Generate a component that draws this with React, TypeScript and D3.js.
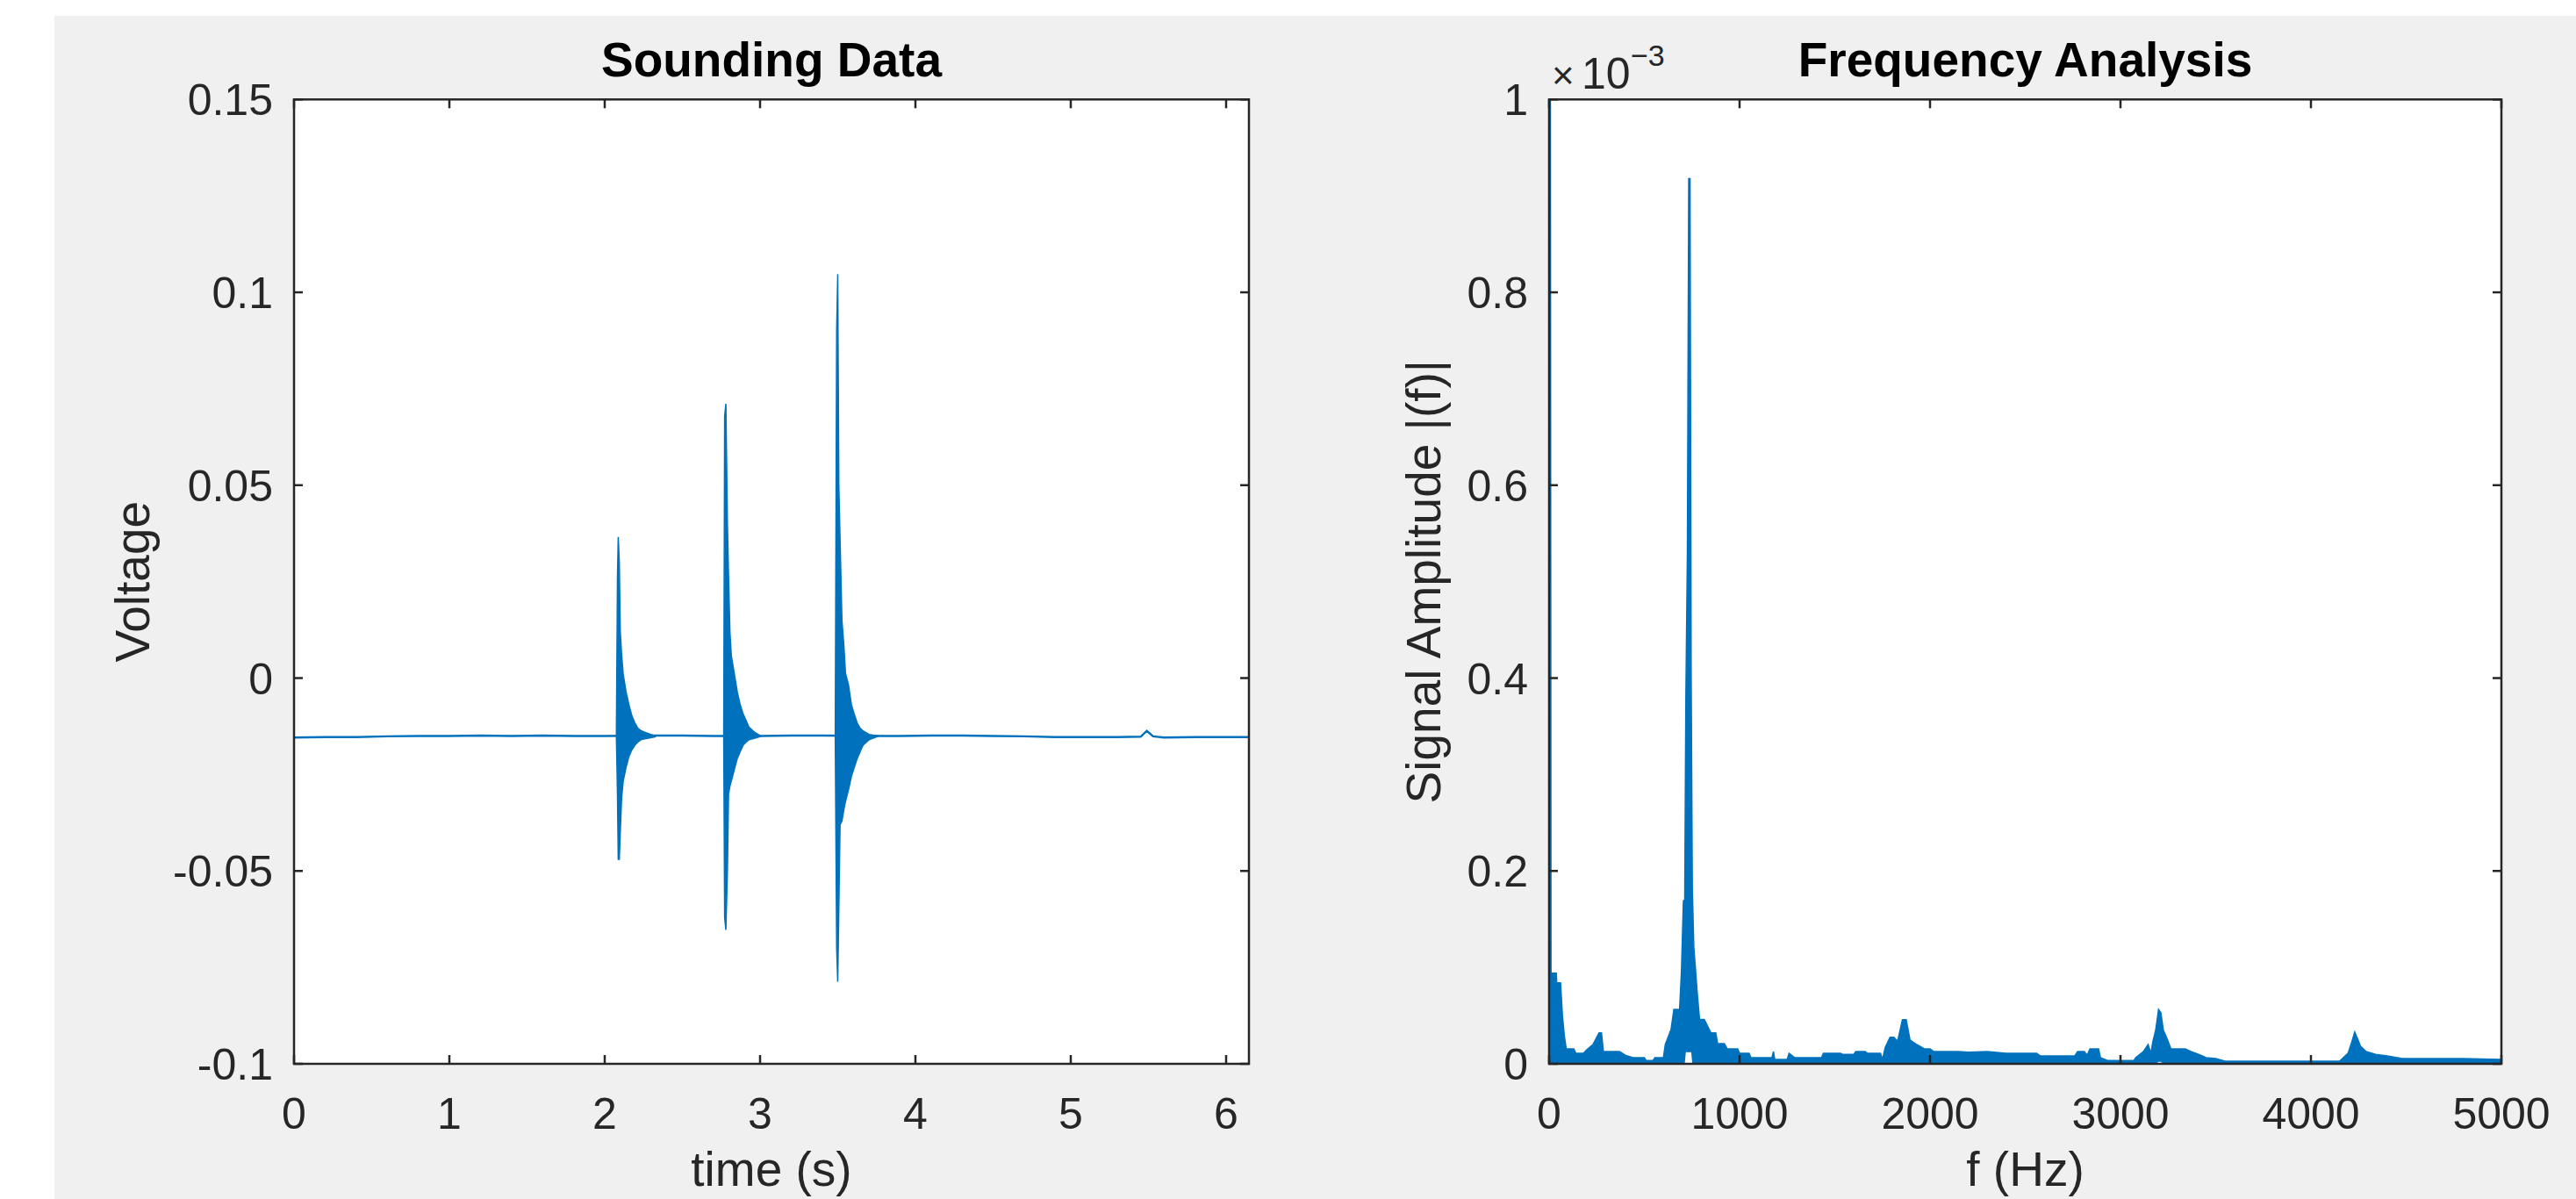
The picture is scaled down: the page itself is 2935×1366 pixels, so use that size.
import React from 'react';
import * as d3 from 'd3';

// ---------- tick definitions ----------
const timeTicks = [0, 1, 2, 3, 4, 5, 6];
const voltTicks = [-0.1, -0.05, 0, 0.05, 0.1, 0.15];
const voltTickLabels = ['-0.1', '-0.05', '0', '0.05', '0.1', '0.15'];
const freqTicks = [0, 1000, 2000, 3000, 4000, 5000];
const ampTicks = [0, 0.2, 0.4, 0.6, 0.8, 1];
const ampTickLabels = ['0', '0.2', '0.4', '0.6', '0.8', '1'];

// ---------- time-domain data ----------
const baseT = [0, 0.2, 0.4, 0.6, 0.8, 1.0, 1.2, 1.4, 1.6, 1.8, 2.0, 2.3, 2.5, 2.7, 3.0, 3.2, 3.4, 3.8, 3.9, 4.1, 4.3, 4.5, 4.7, 4.9, 5.1, 5.3, 5.45, 5.49, 5.53, 5.6, 5.8, 6.0, 6.147];
const baseV = [-0.0154, -0.0153, -0.0153, -0.0151, -0.0150, -0.0150, -0.0149, -0.0150, -0.0149, -0.0150, -0.0150, -0.0149, -0.0149, -0.0150, -0.0150, -0.0149, -0.0149, -0.0150, -0.0150, -0.0149, -0.0149, -0.0150, -0.0151, -0.0153, -0.0153, -0.0153, -0.0152, -0.0137, -0.0151, -0.0154, -0.0153, -0.0153, -0.0153];

const burst1T = [2.075, 2.082, 2.087, 2.094, 2.100, 2.109, 2.119, 2.137, 2.156, 2.175, 2.194, 2.213, 2.232, 2.250, 2.288, 2.326];
const burst1Hi = [-0.015, 0.026, 0.0366, 0.030, 0.0122, 0.006, 0.001, -0.0035, -0.0069, -0.0098, -0.0116, -0.013, -0.0136, -0.0139, -0.0145, -0.0150];
const burst1Lo = [-0.015, -0.030, -0.047, -0.047, -0.040, -0.031, -0.0267, -0.0232, -0.0203, -0.0186, -0.0174, -0.0166, -0.016, -0.0158, -0.0155, -0.0152];

const burst2T = [2.766, 2.772, 2.780, 2.790, 2.797, 2.806, 2.815, 2.834, 2.853, 2.872, 2.891, 2.910, 2.928, 2.966, 3.004];
const burst2Hi = [-0.015, 0.068, 0.0711, 0.040, 0.0267, 0.012, 0.0058, 0.0012, -0.0035, -0.0069, -0.0093, -0.011, -0.0127, -0.0141, -0.0150];
const burst2Lo = [-0.015, -0.062, -0.0653, -0.050, -0.0301, -0.028, -0.0267, -0.0238, -0.0209, -0.0191, -0.0174, -0.0166, -0.016, -0.0156, -0.0151];

const burst3T = [3.484, 3.493, 3.500, 3.507, 3.515, 3.527, 3.540, 3.550, 3.569, 3.588, 3.606, 3.625, 3.644, 3.663, 3.701, 3.757];
const burst3Hi = [-0.015, 0.090, 0.1047, 0.050, 0.036, 0.015, 0.0081, 0.0012, -0.0017, -0.0069, -0.0093, -0.0116, -0.013, -0.0137, -0.0146, -0.0150];
const burst3Lo = [-0.015, -0.070, -0.0787, -0.060, -0.038, -0.0371, -0.034, -0.032, -0.029, -0.0255, -0.0232, -0.0209, -0.0191, -0.0174, -0.016, -0.0151];

// ---------- frequency-domain data (amplitude in units of 1e-3) ----------
const fftFreq = [0, 5, 10, 25, 38, 40, 60, 70, 80, 90, 130, 140, 180, 200, 230, 262, 275, 285, 370, 400, 440, 500, 510, 545, 555, 600, 610, 640, 655, 685, 695, 705, 712, 718, 726, 733, 740, 746, 752, 760, 768, 776, 790, 815, 830, 850, 875, 885, 920, 935, 990, 1000, 1050, 1060, 1170, 1178, 1185, 1250, 1260, 1290, 1430, 1440, 1530, 1540, 1600, 1610, 1660, 1670, 1740, 1750, 1765, 1790, 1810, 1830, 1855, 1875, 1895, 1930, 1970, 2000, 2020, 2150, 2200, 2300, 2400, 2560, 2580, 2760, 2775, 2810, 2825, 2840, 2885, 2895, 2935, 3070, 3080, 3120, 3145, 3160, 3170, 3185, 3200, 3212, 3225, 3245, 3265, 3340, 3370, 3410, 3450, 3500, 3550, 4150, 4170, 4195, 4215, 4230, 4245, 4260, 4290, 4340, 4400, 4480, 4800, 5000];
const fftAmp = [1.5, 1.5, 0.094, 0.094, 0.094, 0.084, 0.084, 0.05, 0.029, 0.0155, 0.0155, 0.011, 0.011, 0.015, 0.02, 0.032, 0.032, 0.0127, 0.0127, 0.009, 0.0064, 0.0064, 0.0033, 0.0033, 0.0064, 0.0064, 0.02, 0.0355, 0.0564, 0.0564, 0.097, 0.169, 0.17, 0.38, 0.53, 0.918, 0.918, 0.40, 0.181, 0.12, 0.10, 0.078, 0.046, 0.046, 0.04, 0.032, 0.032, 0.021, 0.021, 0.0155, 0.0155, 0.011, 0.011, 0.0064, 0.0064, 0.0127, 0.0045, 0.0045, 0.011, 0.0064, 0.0064, 0.011, 0.011, 0.0098, 0.0098, 0.0127, 0.0127, 0.011, 0.011, 0.0045, 0.017, 0.0276, 0.0276, 0.0235, 0.0458, 0.0458, 0.0246, 0.02, 0.0155, 0.0155, 0.0127, 0.0127, 0.012, 0.0127, 0.011, 0.011, 0.0082, 0.0082, 0.0127, 0.0127, 0.009, 0.0155, 0.0155, 0.0064, 0.0033, 0.0033, 0.0064, 0.0127, 0.02, 0.011, 0.023, 0.035, 0.0564, 0.053, 0.035, 0.026, 0.0155, 0.0155, 0.0127, 0.0098, 0.0064, 0.0055, 0.0027, 0.0027, 0.0064, 0.011, 0.023, 0.033, 0.026, 0.0185, 0.0127, 0.0098, 0.0082, 0.0055, 0.0055, 0.0045];
const fftFloor = [0, 0, 0, 0, 0, 0, 0, 0, 0, 0, 0, 0, 0, 0, 0, 0, 0, 0, 0, 0, 0, 0, 0, 0, 0, 0, 0, 0, 0, 0, 0, 0, 0, 0.012, 0.012, 0.012, 0.012, 0.012, 0, 0, 0, 0, 0, 0, 0, 0, 0, 0, 0, 0, 0, 0, 0, 0, 0, 0, 0, 0, 0, 0, 0, 0, 0, 0, 0, 0, 0, 0, 0, 0, 0, 0, 0, 0, 0, 0, 0, 0, 0, 0, 0, 0, 0, 0, 0, 0, 0, 0, 0, 0, 0, 0, 0, 0, 0, 0, 0, 0, 0, 0, 0, 0, 0.002, 0.002, 0, 0, 0, 0, 0, 0, 0, 0, 0, 0, 0, 0, 0, 0, 0, 0, 0, 0, 0, 0, 0, 0, 0, 0];

// ---------- styling ----------
const W = 2935;
const H = 1366;
const FONT = "'Liberation Sans', Arial, Helvetica, sans-serif";
const BLUE = '#0072BD';
const AX = '#262626';
const TICK_FS = 50;
const LABEL_FS = 55;

const L = { x0: 335, x1: 1423, y0: 113.3, y1: 1212 };
const R = { x0: 1765, x1: 2850, y0: 113.3, y1: 1212 };
const TICK_LEN = 10;

function Frame({ box, xTicks, yTicks, xScale, yScale, xLabels, yLabels }: any) {
  return (
    <g>
      <rect x={box.x0} y={box.y0} width={box.x1 - box.x0} height={box.y1 - box.y0} fill="none" stroke={AX} strokeWidth={2.5} />
      {xTicks.map((t: number, i: number) => (
        <g key={'xt' + i}>
          <line x1={xScale(t)} x2={xScale(t)} y1={box.y1} y2={box.y1 - TICK_LEN} stroke={AX} strokeWidth={2.5} />
          <line x1={xScale(t)} x2={xScale(t)} y1={box.y0} y2={box.y0 + TICK_LEN} stroke={AX} strokeWidth={2.5} />
          <text x={xScale(t)} y={1286} textAnchor="middle" fontSize={TICK_FS} fill={AX} fontFamily={FONT}>{xLabels[i]}</text>
        </g>
      ))}
      {yTicks.map((t: number, i: number) => (
        <g key={'yt' + i}>
          <line x1={box.x0} x2={box.x0 + TICK_LEN} y1={yScale(t)} y2={yScale(t)} stroke={AX} strokeWidth={2.5} />
          <line x1={box.x1} x2={box.x1 - TICK_LEN} y1={yScale(t)} y2={yScale(t)} stroke={AX} strokeWidth={2.5} />
          <text x={box.x0 - 24} y={yScale(t)} dy="0.36em" textAnchor="end" fontSize={TICK_FS} fill={AX} fontFamily={FONT}>{yLabels[i]}</text>
        </g>
      ))}
    </g>
  );
}

export default function App() {
  // left scales
  const xT = d3.scaleLinear().domain([0, 6.147]).range([L.x0, L.x1]);
  const yV = d3.scaleLinear().domain([-0.1, 0.15]).range([L.y1, L.y0]);
  // right scales
  const xF = d3.scaleLinear().domain([0, 5000]).range([R.x0, R.x1]);
  const yA = d3.scaleLinear().domain([0, 1]).range([R.y1, R.y0]);

  const baseLine = d3.line<number>().x((d) => xT(d)).y((_, i) => yV(baseV[i]))(baseT) || '';
  const burstArea = (ts: number[], hi: number[], lo: number[]) =>
    d3.area<number>().x((d) => xT(d)).y0((_, i) => yV(lo[i])).y1((_, i) => yV(hi[i]))(ts) || '';

  const fftArea = d3.area<number>().x((d) => xF(d)).y0((_, i) => yA(fftFloor[i])).y1((_, i) => yA(fftAmp[i]))(fftFreq) || '';
  const fftLine = d3.line<number>().x((d) => xF(d)).y((_, i) => yA(fftAmp[i]))(fftFreq) || '';

  return (
    <svg width={W} height={H} style={{ position: 'absolute', left: 0, top: 0, display: 'block' }} xmlns="http://www.w3.org/2000/svg">
      <defs>
        <clipPath id="clipL"><rect x={L.x0} y={L.y0} width={L.x1 - L.x0} height={L.y1 - L.y0} /></clipPath>
        <clipPath id="clipR"><rect x={R.x0} y={R.y0} width={R.x1 - R.x0} height={R.y1 - R.y0} /></clipPath>
      </defs>
      <rect x={0} y={0} width={W} height={H} fill="#ffffff" />
      <rect x={62} y={18} width={W - 62} height={H - 18} fill="#f0f0f0" />

      {/* Left axes */}
      <rect x={L.x0} y={L.y0} width={L.x1 - L.x0} height={L.y1 - L.y0} fill="#ffffff" />
      <g clipPath="url(#clipL)">
        <path d={baseLine} fill="none" stroke={BLUE} strokeWidth={2.4} />
        <path d={burstArea(burst1T, burst1Hi, burst1Lo)} fill={BLUE} stroke={BLUE} strokeWidth={1.5} />
        <path d={burstArea(burst2T, burst2Hi, burst2Lo)} fill={BLUE} stroke={BLUE} strokeWidth={1.5} />
        <path d={burstArea(burst3T, burst3Hi, burst3Lo)} fill={BLUE} stroke={BLUE} strokeWidth={1.5} />
      </g>
      <Frame box={L} xTicks={timeTicks} yTicks={voltTicks} xScale={xT} yScale={yV}
        xLabels={timeTicks.map(String)} yLabels={voltTickLabels} />
      <text x={(L.x0 + L.x1) / 2} y={87} textAnchor="middle" fontSize={55} fontWeight="bold" fill="#000" fontFamily={FONT}>Sounding Data</text>
      <text x={(L.x0 + L.x1) / 2} y={1351} textAnchor="middle" fontSize={LABEL_FS} fill={AX} fontFamily={FONT}>time (s)</text>
      <text transform={`translate(170, ${(L.y0 + L.y1) / 2}) rotate(-90)`} textAnchor="middle" fontSize={LABEL_FS} fill={AX} fontFamily={FONT}>Voltage</text>

      {/* Right axes */}
      <rect x={R.x0} y={R.y0} width={R.x1 - R.x0} height={R.y1 - R.y0} fill="#ffffff" />
      <g clipPath="url(#clipR)">
        <path d={fftArea} fill={BLUE} stroke="none" />
        <path d={fftLine} fill="none" stroke={BLUE} strokeWidth={1.5} />
      </g>
      <Frame box={R} xTicks={freqTicks} yTicks={ampTicks} xScale={xF} yScale={yA}
        xLabels={freqTicks.map(String)} yLabels={ampTickLabels} />
      <text x={(R.x0 + R.x1) / 2} y={87} textAnchor="middle" fontSize={55} fontWeight="bold" fill="#000" fontFamily={FONT}>Frequency Analysis</text>
      <text x={(R.x0 + R.x1) / 2} y={1351} textAnchor="middle" fontSize={LABEL_FS} fill={AX} fontFamily={FONT}>f (Hz)</text>
      <text transform={`translate(1641, ${(R.y0 + R.y1) / 2}) rotate(-90)`} textAnchor="middle" fontSize={LABEL_FS} fill={AX} fontFamily={FONT}>Signal Amplitude |(f)|</text>
      <text y={101} fontSize={TICK_FS} fill={AX} fontFamily={FONT}>
        <tspan x={1768} fontSize={44}>×</tspan>
        <tspan x={1802}>10</tspan>
        <tspan x={1858} y={75} fontSize={34}>−3</tspan>
      </text>
    </svg>
  );
}
